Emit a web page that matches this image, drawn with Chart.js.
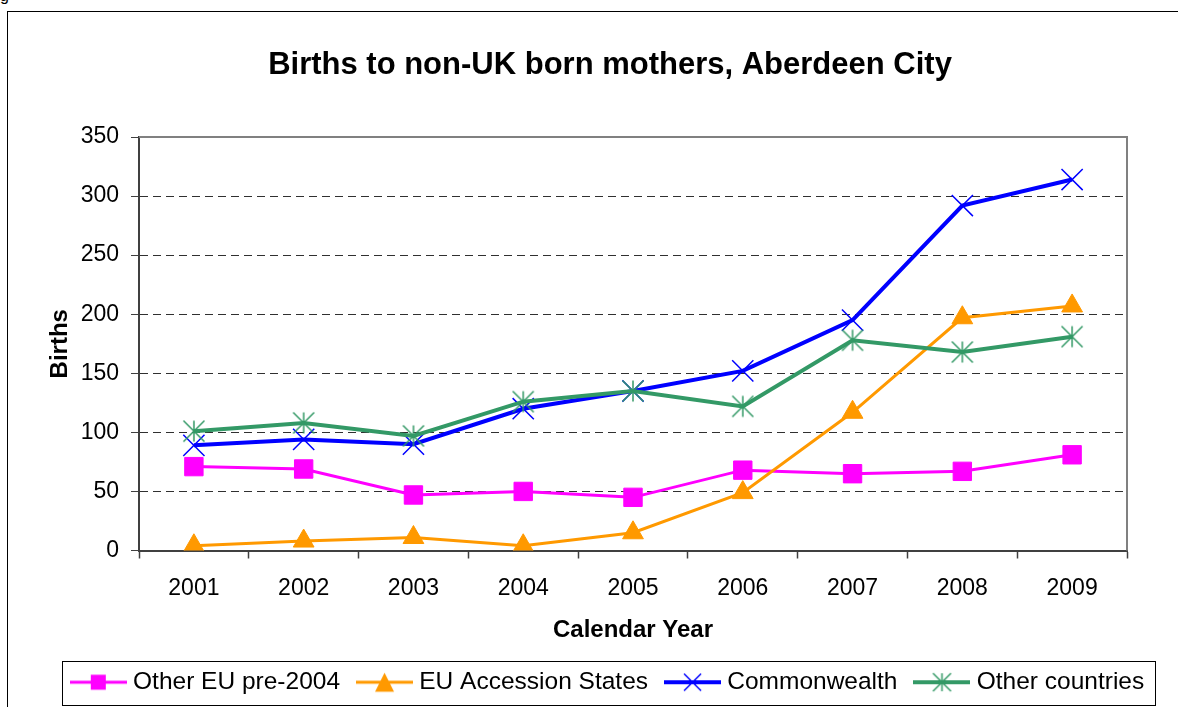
<!DOCTYPE html>
<html>
<head>
<meta charset="utf-8">
<title>Births to non-UK born mothers, Aberdeen City</title>
<script src="https://cdn.jsdelivr.net/npm/chart.js@4.4.1/dist/chart.umd.min.js"></script>
<style>
  html, body { margin: 0; padding: 0; background: #fff; overflow: hidden; width: 1178px; height: 707px; }
  #cap { position: absolute; left: 0; top: -13px; font: 16px 'Liberation Sans', Arial, sans-serif; color: #000; }
  #box { position: absolute; left: 7px; top: 11px; border: 1px solid #000; width: 1204px; height: 700px; }
  canvas { display: block; }
</style>
</head>
<body>
<div id="cap">g</div>
<div id="box"><canvas id="chart" width="1204" height="700"></canvas></div>
<script>
const years = ['2001', '2002', '2003', '2004', '2005', '2006', '2007', '2008', '2009'];
const otherEuPre2004 = [71, 69, 47, 50, 45, 68, 65, 67, 81];
const euAccession = [4, 8, 11, 4, 15, 49, 117, 197, 207];
const commonwealth = [89, 94, 90, 120, 135, 152, 195, 292, 314];
const otherCountries = [101, 108, 97, 126, 135, 122, 178, 168, 181];
const yTicks = [0, 50, 100, 150, 200, 250, 300, 350];

const seriesNames = ['Other EU pre-2004', 'EU Accession States', 'Commonwealth', 'Other countries'];
const seriesColors = ['#FF00FF', '#FF9900', '#0000FF', '#339966'];
const seriesWidths = [3, 3, 4, 4];
const markerKinds = ['square', 'triangle', 'x', 'asterisk'];

const FONT = "'Liberation Sans', Arial, sans-serif";

function drawMarker(ctx, kind, color, cx, cy, s) {
    ctx.fillStyle = color;
    ctx.strokeStyle = color;
    if (kind === 'square') {
        ctx.fillRect(cx - s / 2, cy - s / 2, s, s);
    } else if (kind === 'triangle') {
        ctx.beginPath();
        ctx.moveTo(cx, cy - s / 2);
        ctx.lineTo(cx + s / 2, cy + s / 2);
        ctx.lineTo(cx - s / 2, cy + s / 2);
        ctx.closePath();
        ctx.fill();
    } else {
        const h = s / 2;
        ctx.lineWidth = 1.5;
        ctx.beginPath();
        ctx.moveTo(cx - h, cy - h); ctx.lineTo(cx + h, cy + h);
        ctx.moveTo(cx + h, cy - h); ctx.lineTo(cx - h, cy + h);
        if (kind === 'asterisk') {
            ctx.moveTo(cx, cy - h); ctx.lineTo(cx, cy + h);
        }
        ctx.stroke();
    }
}

// legend swatch: short line with the marker in the middle
function legendSwatch(i) {
    const c = document.createElement('canvas');
    c.width = 57; c.height = 24;
    const ctx = c.getContext('2d');
    ctx.strokeStyle = seriesColors[i];
    ctx.lineWidth = seriesWidths[i];
    ctx.beginPath();
    ctx.moveTo(0, 12); ctx.lineTo(57, 12);
    ctx.stroke();
    const sizes = {square: 15, triangle: 19, x: 17, asterisk: 18};
    drawMarker(ctx, markerKinds[i], seriesColors[i], 28.5, 12, sizes[markerKinds[i]]);
    return c;
}

// plot marker for the "Other countries" asterisk
function asteriskPoint() {
    const c = document.createElement('canvas');
    c.width = 26; c.height = 26;
    drawMarker(c.getContext('2d'), 'asterisk', seriesColors[3], 13, 13, 21);
    return c;
}

const frame = {
    id: 'frame',
    beforeDatasetsDraw(chart) {
        const {ctx, chartArea: a} = chart;
        ctx.save();
        ctx.strokeStyle = '#808080';
        ctx.lineWidth = 2;
        ctx.beginPath();
        ctx.moveTo(a.left, a.top);
        ctx.lineTo(a.right, a.top);
        ctx.lineTo(a.right, a.bottom);
        ctx.stroke();
        ctx.restore();
    },
    afterDraw(chart) {
        const lg = chart.legend;
        const hb = lg.legendHitBoxes;
        if (!hb || !hb.length) return;
        const last = hb[hb.length - 1];
        const x1 = Math.round(hb[0].left - 14);
        const x2 = Math.round(last.left + last.width + 11);
        const y1 = Math.round(lg.top + 13);
        const ctx = chart.ctx;
        ctx.save();
        ctx.strokeStyle = '#000';
        ctx.lineWidth = 1;
        ctx.strokeRect(x1 + 0.5, y1 + 0.5, x2 - x1, 44);
        ctx.restore();
    }
};

Chart.defaults.color = '#000';
Chart.defaults.font.family = FONT;

const datasets = [otherEuPre2004, euAccession, commonwealth, otherCountries].map((values, i) => ({
    label: seriesNames[i],
    data: values,
    borderColor: seriesColors[i],
    backgroundColor: seriesColors[i],
    borderWidth: seriesWidths[i],
    tension: 0,
    order: 3 - i,
    pointStyle: ['rect', 'triangle', 'crossRot', asteriskPoint()][i],
    pointRadius: [13, 12, 15, 12][i],
    pointBorderWidth: [1, 1, 1.5, 1][i],
    pointBackgroundColor: seriesColors[i],
    pointBorderColor: seriesColors[i]
}));

new Chart(document.getElementById('chart'), {
    type: 'line',
    data: { labels: years, datasets: datasets },
    options: {
        responsive: false,
        animation: false,
        layout: { padding: { left: 0, right: 0, top: 0, bottom: 7.5 } },
        plugins: {
            tooltip: { enabled: false },
            title: {
                display: true,
                text: 'Births to non-UK born mothers, Aberdeen City',
                font: { size: 31, weight: 'bold' },
                padding: { top: 34.4, bottom: 53.4 }
            },
            legend: {
                position: 'bottom',
                labels: {
                    usePointStyle: true,
                    pointStyleWidth: 45,
                    padding: 22,
                    font: { size: 24.5 },
                    generateLabels: () => seriesNames.map((name, i) => ({
                        text: name,
                        pointStyle: legendSwatch(i),
                        fillStyle: seriesColors[i],
                        strokeStyle: seriesColors[i],
                        lineWidth: 0,
                        hidden: false,
                        datasetIndex: i
                    }))
                }
            }
        },
        scales: {
            x: {
                offset: true,
                grid: { offset: true, drawOnChartArea: false, tickLength: 8, tickColor: '#404040', tickWidth: 1.5 },
                border: { color: '#404040', width: 2 },
                ticks: { font: { size: 23 }, padding: 16, maxRotation: 0, autoSkip: false },
                title: { display: true, text: 'Calendar Year', font: { size: 24, weight: 'bold' }, padding: { top: 0, bottom: 3 } },
                afterFit: (s) => { s.height = 97.5; }
            },
            y: {
                min: 0,
                max: 350,
                afterBuildTicks: (s) => { s.ticks = yTicks.map(v => ({ value: v })); },
                grid: { color: '#303030', lineWidth: 1, tickLength: 8, tickColor: '#404040' },
                border: { color: '#404040', width: 2, dash: [8, 5] },
                ticks: { font: { size: 23 }, padding: 12 },
                title: { display: true, text: 'Births', font: { size: 24, weight: 'bold' }, padding: { top: 38, bottom: 0 } },
                afterFit: (s) => { s.width = 131; }
            },
            yRight: {
                position: 'right',
                display: true,
                grid: { display: false },
                border: { display: false },
                ticks: { display: false },
                afterFit: (s) => { s.width = 85; }
            }
        }
    },
    plugins: [frame]
});
</script>
</body>
</html>
